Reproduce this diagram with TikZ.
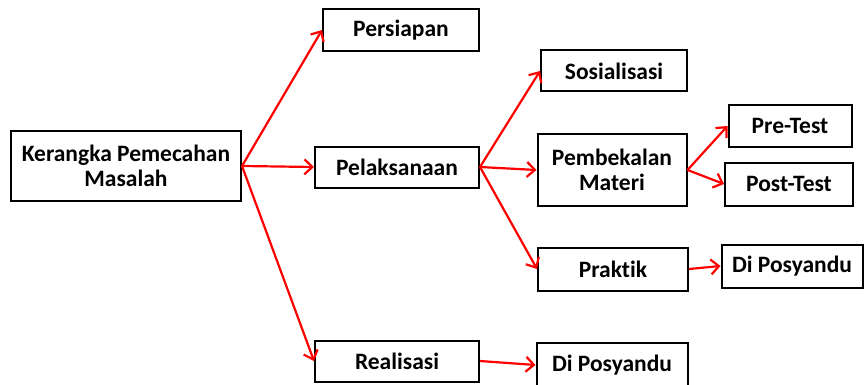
\documentclass[tikz,border=0pt]{standalone}
\usepackage{fontspec}
\setmainfont{Carlito}[Ligatures=NoCommon]
\usepackage{tikz}
\usetikzlibrary{arrows.meta}
\definecolor{ArrowRed}{HTML}{FF0000}

\begin{document}
\begin{tikzpicture}[
  x=1pt, y=-1pt,
  every node/.style={font=\bfseries\fontsize{23.5}{25}\selectfont},
  box/.style={draw=black, line width=2pt, align=center, inner sep=0pt},
  link/.style={ArrowRed, line width=2.2pt, -{Straight Barb[length=8pt, width=15pt]}},
]
\useasboundingbox (0,0) rectangle (864,385);

% Root
\node[box, minimum width=230, minimum height=70] (root) at (126,166)
  {Kerangka Pemecahan\\Masalah};

% Level 1
\node[box, minimum width=156, minimum height=42] (prep) at (401,30) {Persiapan};
\node[box, minimum width=164, minimum height=41] (exec) at (397,167) {Pelaksanaan};
\node[box, minimum width=164, minimum height=41] (real) at (397,361) {Realisasi};

% Level 2
\node[box, minimum width=146, minimum height=41] (soc) at (614,71) {Sosialisasi};
\node[box, minimum width=149, minimum height=72] (brief) at (612,170)
  {Pembekalan\\Materi};
\node[box, minimum width=150, minimum height=43] (prac) at (613,269) {Praktik};
\node[box, minimum width=151, minimum height=44] (posb) at (612,365) {Di Posyandu};

% Level 3
\node[box, minimum width=123, minimum height=42] (pre) at (790,126) {Pre-Test};
\node[box, minimum width=128, minimum height=43] (post) at (789,184) {Post-Test};
\node[box, minimum width=141, minimum height=43] (posa) at (792,266) {Di Posyandu};

% Arrows
\foreach \a/\b in {root/prep, root/exec, root/real,
                   exec/soc, exec/brief, exec/prac,
                   brief/pre, brief/post, prac/posa, real/posb}
  \draw[link] (\a.east) -- (\b.west);

\end{tikzpicture}
\end{document}
